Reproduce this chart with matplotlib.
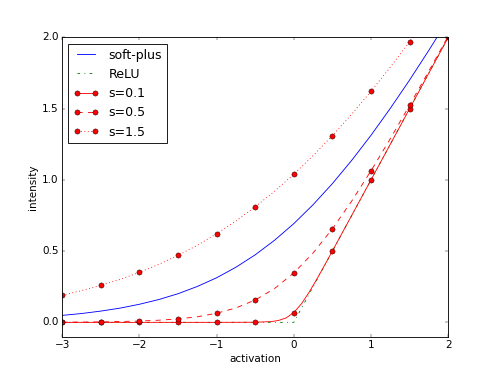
import matplotlib
matplotlib.use('Agg')
import matplotlib.pyplot as plt

plt.style.use('classic')
plt.rcParams['figure.facecolor'] = 'white'

# smooth curves sampled every 0.25
x_fine = [-3.0, -2.75, -2.5, -2.25, -2.0, -1.75, -1.5, -1.25, -1.0, -0.75, -0.5,
          -0.25, 0.0, 0.25, 0.5, 0.75, 1.0, 1.25, 1.5, 1.75, 2.0]
softplus = [0.049, 0.062, 0.079, 0.100, 0.127, 0.160, 0.201, 0.252, 0.313, 0.387, 0.474,
            0.576, 0.693, 0.826, 0.974, 1.137, 1.313, 1.502, 1.701, 1.910, 2.127]
s05_line = [0.001, 0.002, 0.003, 0.006, 0.009, 0.015, 0.024, 0.039, 0.064, 0.101, 0.157,
            0.237, 0.347, 0.487, 0.657, 0.851, 1.064, 1.289, 1.524, 1.765, 2.009]
s15_line = [0.190, 0.223, 0.260, 0.302, 0.351, 0.407, 0.470, 0.541, 0.622, 0.711, 0.811,
            0.920, 1.040, 1.170, 1.311, 1.461, 1.622, 1.791, 1.970, 2.157, 2.351]

# s=0.1 has a sharp knee, so denser near zero
x_s01 = [-3.0, -2.0, -1.0, -0.5, -0.3, -0.2, -0.1, 0.0, 0.1, 0.2, 0.3, 0.4, 0.5, 1.0, 1.5, 2.0]
s01_line = [0.0, 0.0, 0.0, 0.001, 0.005, 0.013, 0.031, 0.069, 0.131, 0.213, 0.305, 0.402,
            0.501, 1.0, 1.5, 2.0]

relu_x = [-3.0, 0.0, 2.0]
relu_y = [0.0, 0.0, 2.0]

# marker positions
x_pts = [-3.0, -2.5, -2.0, -1.5, -1.0, -0.5, 0.0, 0.5, 1.0, 1.5, 2.0]
s01_pts = [0.0, 0.0, 0.0, 0.0, 0.0, 0.001, 0.069, 0.501, 1.0, 1.5, 2.0]
s05_pts = [0.001, 0.003, 0.009, 0.024, 0.064, 0.157, 0.347, 0.657, 1.064, 1.524, 2.009]
s15_pts = [0.190, 0.260, 0.351, 0.470, 0.622, 0.811, 1.040, 1.311, 1.622, 1.970, 2.351]

fig = plt.figure(figsize=(8, 374 / 62.25), dpi=62.25)
ax = fig.add_subplot(111)

ax.plot(x_fine, softplus, 'b-', label='soft-plus')
ax.plot(relu_x, relu_y, 'g-.', label='ReLU')

for xl, yl, yp, ls, lab in [(x_s01, s01_line, s01_pts, '-', 's=0.1'),
                             (x_fine, s05_line, s05_pts, '--', 's=0.5'),
                             (x_fine, s15_line, s15_pts, ':', 's=1.5')]:
    ax.plot(xl, yl, color='r', linestyle=ls)
    ax.plot(x_pts, yp, color='r', linestyle='none', marker='o', mec='k')
    # legend entry only
    ax.plot([], [], color='r', linestyle=ls, marker='o', mec='k', label=lab)

ax.set_xlim(-3, 2)
ax.set_ylim(-0.1, 2.0)
ax.set_xlabel('activation')
ax.set_ylabel('intensity')
ax.legend(loc='upper left')

fig.savefig('out.png', dpi=62.25)
